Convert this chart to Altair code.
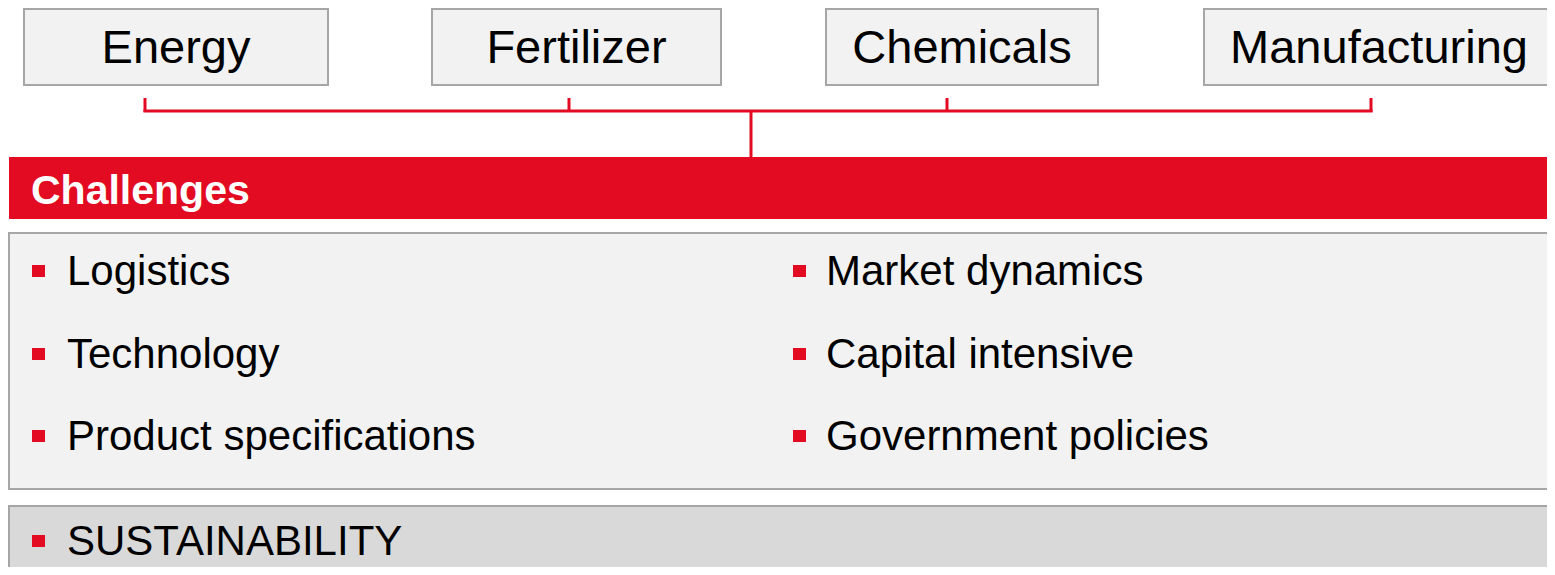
import altair as alt
import pandas as pd

# ---------------- content ----------------
sectors = ["Energy", "Fertilizer", "Chemicals", "Manufacturing"]
header = ["Challenges"]
challenges_left = ["Logistics", "Technology", "Product specifications"]
challenges_right = ["Market dynamics", "Capital intensive", "Government policies"]
highlight = ["SUSTAINABILITY"]

# ---------------- layout (diagram units = page pixels) ----------------
W, H, M = 1555, 575, 8
RED = "#E20B22"
BOX_FILL = "#F2F2F2"
BOX_STROKE = "#A6A6A6"
DARK_FILL = "#D9D9D9"
FONT = "Liberation Sans"

box_left = [24, 432, 826, 1204]
box_right = [328, 721, 1098, 1554]
box_top, box_bottom = 9, 85
tick_pos = [145, 569, 947, 1371]
tick_top, bus_y, trunk_x, band_top, band_bottom = 98, 111, 751, 157, 219
panel_top, panel_bottom, foot_top = 233, 489, 506
row_base = [285, 368, 450]
col_bullet = [32, 793]
col_text = [67, 826]
foot_base = 555

PW, PH = W - 2 * M, H - 2 * M  # drawable area that fits the page without overflow
xs = alt.Scale(domain=[M, M + PW], nice=False, zero=False)
ys = alt.Scale(domain=[M, M + PH], nice=False, zero=False, reverse=True)


def X(f="x"):
    return alt.X(f + ":Q", scale=xs, axis=None)


def Y(f="y"):
    return alt.Y(f + ":Q", scale=ys, axis=None)


# sector boxes
boxes = pd.DataFrame({"label": sectors, "x": box_left, "x2": box_right,
                      "y": [box_top] * 4, "y2": [box_bottom] * 4})
boxes["xc"] = [(a + b) / 2 for a, b in zip(box_left, box_right)]
boxes["yb"] = 63

box_layer = alt.Chart(boxes).mark_rect(fill=BOX_FILL, stroke=BOX_STROKE, strokeWidth=2).encode(
    x=X(), x2="x2:Q", y=Y(), y2="y2:Q")
box_text = alt.Chart(boxes).mark_text(font=FONT, fontSize=47, color="black", align="center",
                                      baseline="alphabetic").encode(
    x=X("xc"), y=Y("yb"), text="label:N")

# connectors
ticks = pd.DataFrame({"x": tick_pos, "y": [tick_top] * 4, "y2": [bus_y + 1] * 4})
tick_layer = alt.Chart(ticks).mark_rule(color=RED, strokeWidth=3).encode(x=X(), y=Y(), y2="y2:Q")
bus = pd.DataFrame({"x": [tick_pos[0] - 1.5], "x2": [tick_pos[-1] + 1.5], "y": [bus_y]})
bus_layer = alt.Chart(bus).mark_rule(color=RED, strokeWidth=3).encode(x=X(), x2="x2:Q", y=Y())
trunk = pd.DataFrame({"x": [trunk_x], "y": [bus_y], "y2": [band_top]})
trunk_layer = alt.Chart(trunk).mark_rule(color=RED, strokeWidth=3).encode(x=X(), y=Y(), y2="y2:Q")

# header band
band = pd.DataFrame({"x": [9], "x2": [W + 5], "y": [band_top], "y2": [band_bottom]})
band_layer = alt.Chart(band).mark_rect(fill=RED).encode(x=X(), x2="x2:Q", y=Y(), y2="y2:Q")
band_txt = pd.DataFrame({"label": header, "x": [31], "y": [204]})
band_text = alt.Chart(band_txt).mark_text(font=FONT, fontSize=41, fontWeight="bold", color="white",
                                          align="left", baseline="alphabetic").encode(
    x=X(), y=Y(), text="label:N")

# panels
panels = pd.DataFrame({"x": [9, 9], "x2": [W + 10, W + 10], "y": [panel_top, foot_top],
                       "y2": [panel_bottom, H + 10], "fill": [BOX_FILL, DARK_FILL]})
panel_layer = alt.Chart(panels).mark_rect(stroke=BOX_STROKE, strokeWidth=2).encode(
    x=X(), x2="x2:Q", y=Y(), y2="y2:Q", fill=alt.Fill("fill:N", scale=None))

# bullet items
items = []
for col, labels in enumerate([challenges_left, challenges_right]):
    for r, lab in enumerate(labels):
        items.append({"label": lab, "bx": col_bullet[col], "tx": col_text[col], "base": row_base[r]})
for lab in highlight:
    items.append({"label": lab, "bx": col_bullet[0], "tx": col_text[0], "base": foot_base})
items = pd.DataFrame(items)
items["x"] = items["bx"]
items["x2"] = items["bx"] + 13
items["y"] = items["base"] - 20
items["y2"] = items["base"] - 8

bullet_layer = alt.Chart(items).mark_rect(fill=RED).encode(x=X(), x2="x2:Q", y=Y(), y2="y2:Q")
item_text = alt.Chart(items).mark_text(font=FONT, fontSize=42, color="black", align="left",
                                       baseline="alphabetic").encode(
    x=X("tx"), y=Y("base"), text="label:N")

chart = alt.layer(
    box_layer, box_text, tick_layer, bus_layer, trunk_layer,
    band_layer, band_text, panel_layer, bullet_layer, item_text
).properties(
    width=PW, height=PH, padding=0, autosize=alt.AutoSizeParams(type="none"),
    background="white"
).configure_view(stroke=None)

chart.save("out.html", embed_options={"renderer": "svg", "actions": False})
